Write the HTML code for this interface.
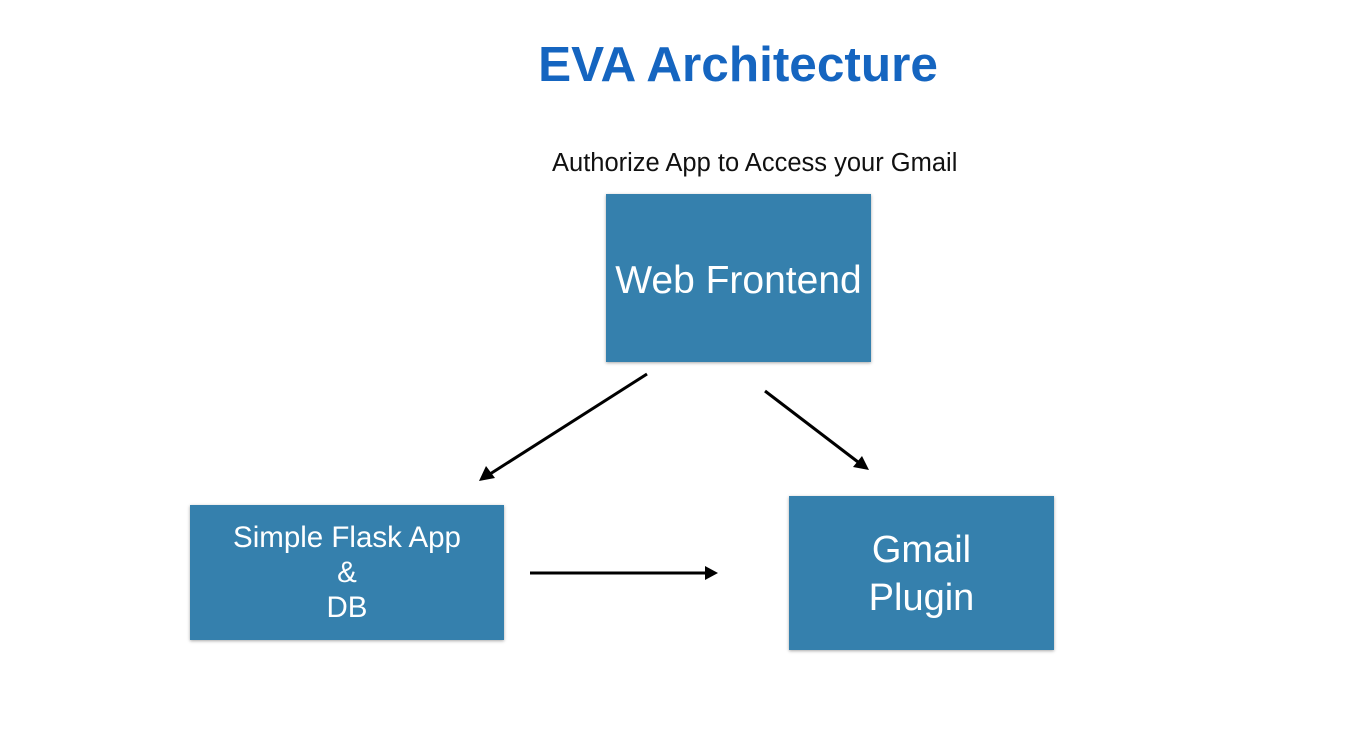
<!DOCTYPE html>
<html><head><meta charset="utf-8"><style>
html,body{margin:0;padding:0;background:#fff;}
body{width:1346px;height:740px;position:relative;overflow:hidden;font-family:"Liberation Sans",sans-serif;}
.t{position:absolute;white-space:nowrap;}
.box{position:absolute;background:#3580ad;box-shadow:0 1px 3px rgba(0,0,0,0.35);color:#fff;display:flex;align-items:center;justify-content:center;text-align:center;font-weight:300;}
</style></head><body>
<div class="t" style="left:0;width:1476px;top:36px;text-align:center;font-size:49.5px;font-weight:bold;color:#1565c0;">EVA Architecture</div>
<div class="t" style="left:552px;top:149px;font-size:25.5px;color:#111;">Authorize App to Access your Gmail</div>
<div class="box" style="left:606px;top:194px;width:265px;height:168px;font-size:39px;"><div style="padding-top:5px">Web Frontend</div></div>
<div class="box" style="left:190px;top:505px;width:314px;height:135px;font-size:29.5px;line-height:35px;"><div>Simple Flask App<br>&amp;<br>DB</div></div>
<div class="box" style="left:789px;top:496px;width:265px;height:154px;font-size:38px;line-height:48px;"><div style="padding-top:2px">Gmail<br>Plugin</div></div>
<svg width="1346" height="740" style="position:absolute;left:0;top:0">
<g stroke="#000" stroke-width="3" fill="#000">
<line x1="647" y1="374" x2="490" y2="474"/>
<polygon points="479,481 486,466 495,478" stroke="none"/>
<line x1="765" y1="391" x2="858" y2="462"/>
<polygon points="869,470 853,467 862,456" stroke="none"/>
<line x1="530" y1="573" x2="705" y2="573"/>
<polygon points="718,573 705,566 705,580" stroke="none"/>
</g>
</svg>
</body></html>
